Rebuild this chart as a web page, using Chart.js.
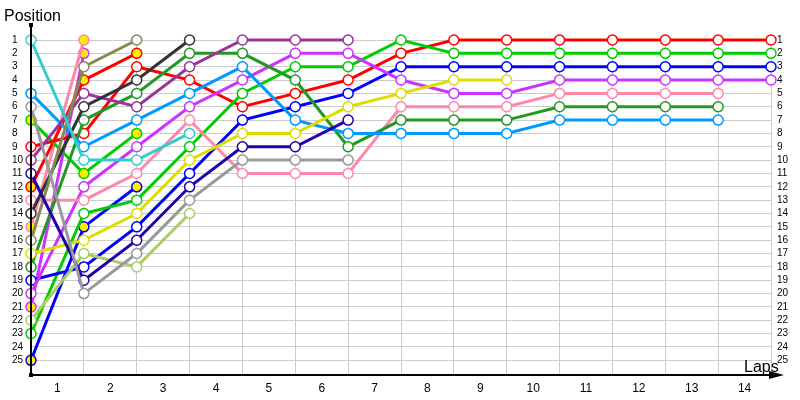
<!DOCTYPE html>
<html lang="en">

<head>
  <meta charset="utf-8">
  <title>Race positions by lap</title>
  <script src="https://cdn.jsdelivr.net/npm/chart.js@4.4.1/dist/chart.umd.min.js"></script>
  <style>
    html, body { margin: 0; padding: 0; background: #fff; }
    #wrap { width: 800px; height: 400px; }
  </style>
</head>

<body>
  <div id="wrap"><canvas id="myChart" width="800" height="400"></canvas></div>

  <script>
    // laps shown under the x axis
    var lapLabels = ['1', '2', '3', '4', '5', '6', '7', '8', '9', '10', '11', '12', '13', '14'];
    // positions shown on both y axes
    var positionLabels = [1, 2, 3, 4, 5, 6, 7, 8, 9, 10, 11, 12, 13, 14, 15, 16, 17, 18, 19, 20, 21, 22, 23, 24, 25];

    // position of each car after lap 0 (start), 1, 2, ...
    var cyanPos       = [1, 10, 10, 8];
    var skyBluePos    = [5, 9, 7, 5, 3, 7, 8, 8, 8, 8, 7, 7, 7, 7];
    var greyPos       = [6, 20, 17, 13, 10, 10, 10];
    var greenPitPos   = [7, 11, 8];
    var redPos        = [9, 8, 3, 4, 6, 5, 4, 2, 1, 1, 1, 1, 1, 1, 1];
    var purplePos     = [10, 5, 6, 3, 1, 1, 1];
    var navyPos       = [11, 19, 16, 12, 9, 9, 7];
    var redPitPos     = [12, 4, 2];
    var pinkPos       = [13, 13, 11, 7, 11, 11, 11, 6, 6, 6, 5, 5, 5, 5];
    var darkGreyPos   = [14, 6, 4, 1];
    var pinkPitPos    = [15, 1];
    var olivePos      = [16, 3, 1];
    var yellowPos     = [17, 16, 14, 10, 8, 8, 6, 5, 4, 4];
    var darkGreenPos  = [18, 7, 5, 2, 2, 4, 9, 7, 7, 7, 6, 6, 6, 6];
    var bluePos       = [19, 18, 15, 11, 7, 6, 5, 3, 3, 3, 3, 3, 3, 3, 3];
    var violetPos     = [20, 12, 9, 6, 4, 2, 2, 4, 5, 5, 4, 4, 4, 4, 4];
    var violetPitPos  = [21, 2];
    var limePos       = [22, 17, 18, 14];
    var greenPos      = [23, 14, 13, 9, 5, 3, 3, 1, 2, 2, 2, 2, 2, 2, 2];
    var bluePitPos    = [25, 15, 12];

    var cars = [
      { data: cyanPos, color: '#33cccc', pit: false },
      { data: greyPos, color: '#999999', pit: false },
      { data: navyPos, color: '#2200aa', pit: false },
      { data: limePos, color: '#aacc66', pit: false },
      { data: olivePos, color: '#888855', pit: false },
      { data: darkGreyPos, color: '#333333', pit: false },
      { data: purplePos, color: '#993399', pit: false },
      { data: yellowPos, color: '#dddd00', pit: false },
      { data: skyBluePos, color: '#0099ff', pit: false },
      { data: darkGreenPos, color: '#229922', pit: false },
      { data: pinkPos, color: '#ff88aa', pit: false },
      { data: violetPos, color: '#cc33ff', pit: false },
      { data: bluePos, color: '#0000ff', pit: false },
      { data: greenPos, color: '#00cc00', pit: false },
      { data: redPos, color: '#ff0000', pit: false },
      { data: greenPitPos, color: '#00cc00', pit: true },
      { data: redPitPos, color: '#ff0000', pit: true },
      { data: pinkPitPos, color: '#ff88aa', pit: true },
      { data: violetPitPos, color: '#cc33ff', pit: true },
      { data: bluePitPos, color: '#0000ff', pit: true }
    ];

    var datasets = cars.map(function (c) {
      return {
        data: c.data.map(function (p, lap) { return { x: lap, y: p }; }),
        borderColor: c.color,
        borderWidth: 3,
        pointRadius: 5,
        pointBorderWidth: 1.5,
        pointBorderColor: c.color,
        pointBackgroundColor: c.pit ? '#ffee00' : '#ffffff',
        tension: 0,
        clip: false
      };
    });

    // x ticks: whole laps carry the grid, half laps carry the label
    var xTicks = [];
    for (var i = 0; i <= lapLabels.length; i++) {
      xTicks.push(i);
      if (i < lapLabels.length) xTicks.push(i + 0.5);
    }

    // axes, arrow and the two axis names
    var axisDecor = {
      id: 'axisDecor',
      afterDraw: function (chart) {
        var c = chart.ctx;
        var a = chart.chartArea;
        c.save();
        c.strokeStyle = '#000';
        c.fillStyle = '#000';
        c.lineWidth = 2;
        c.beginPath();
        c.moveTo(a.left, 25);
        c.lineTo(a.left, a.bottom);
        c.lineTo(778, a.bottom);
        c.stroke();
        // arrow head
        c.beginPath();
        c.moveTo(784, a.bottom);
        c.lineTo(769, a.bottom - 4);
        c.lineTo(769, a.bottom + 4);
        c.closePath();
        c.fill();
        // dots at the ends of the y axis
        c.fillRect(a.left - 2, 23, 4, 4);
        c.fillRect(a.left - 2, a.bottom - 2, 4, 4);
        c.font = '16px "Liberation Sans", Arial, sans-serif';
        c.textBaseline = 'alphabetic';
        c.textAlign = 'left';
        c.fillText('Position', 4, 21);
        c.fillText('Laps', 744, 372);
        c.restore();
      }
    };

    var tickFont = { family: '"Liberation Sans", Arial, sans-serif', size: 10 };

    var ctx = document.getElementById('myChart');
    var myChart = new Chart(ctx, {
      type: 'line',
      data: { datasets: datasets },
      options: {
        responsive: false,
        animation: false,
        events: [],
        layout: { padding: { top: 40, left: 12 } },
        plugins: { legend: { display: false }, tooltip: { enabled: false } },
        scales: {
          x: {
            type: 'linear',
            min: 0,
            max: lapLabels.length,
            afterBuildTicks: function (s) { s.ticks = xTicks.map(function (v) { return { value: v }; }); },
            afterFit: function (s) { s.height = 25; },
            ticks: {
              autoSkip: false,
              maxRotation: 0,
              padding: 6,
              color: '#000',
              font: { family: '"Liberation Sans", Arial, sans-serif', size: 12 },
              callback: function (v) { return v % 1 === 0.5 ? lapLabels[Math.floor(v)] : ''; }
            },
            grid: {
              drawTicks: false,
              lineWidth: 1,
              color: function (c) { return c.tick && c.tick.value % 1 === 0 ? '#cccccc' : 'rgba(0,0,0,0)'; }
            },
            border: { display: false }
          },
          y: {
            type: 'linear',
            reverse: true,
            min: 1,
            max: 26.1,
            position: 'left',
            afterBuildTicks: function (s) { s.ticks = positionLabels.map(function (v) { return { value: v }; }); },
            afterFit: function (s) { s.width = 19; },
            ticks: { color: '#000', font: tickFont, crossAlign: 'far', padding: 0, autoSkip: false },
            grid: { drawTicks: false, color: '#cccccc' },
            border: { display: false }
          },
          y2: {
            type: 'linear',
            reverse: true,
            min: 1,
            max: 26.1,
            position: 'right',
            afterBuildTicks: function (s) { s.ticks = positionLabels.map(function (v) { return { value: v }; }); },
            afterFit: function (s) { s.width = 29; },
            ticks: { color: '#000', font: tickFont, padding: 6, autoSkip: false },
            grid: { display: false, drawTicks: false },
            border: { display: false }
          }
        }
      },
      plugins: [axisDecor]
    });
  </script>
</body>

</html>
